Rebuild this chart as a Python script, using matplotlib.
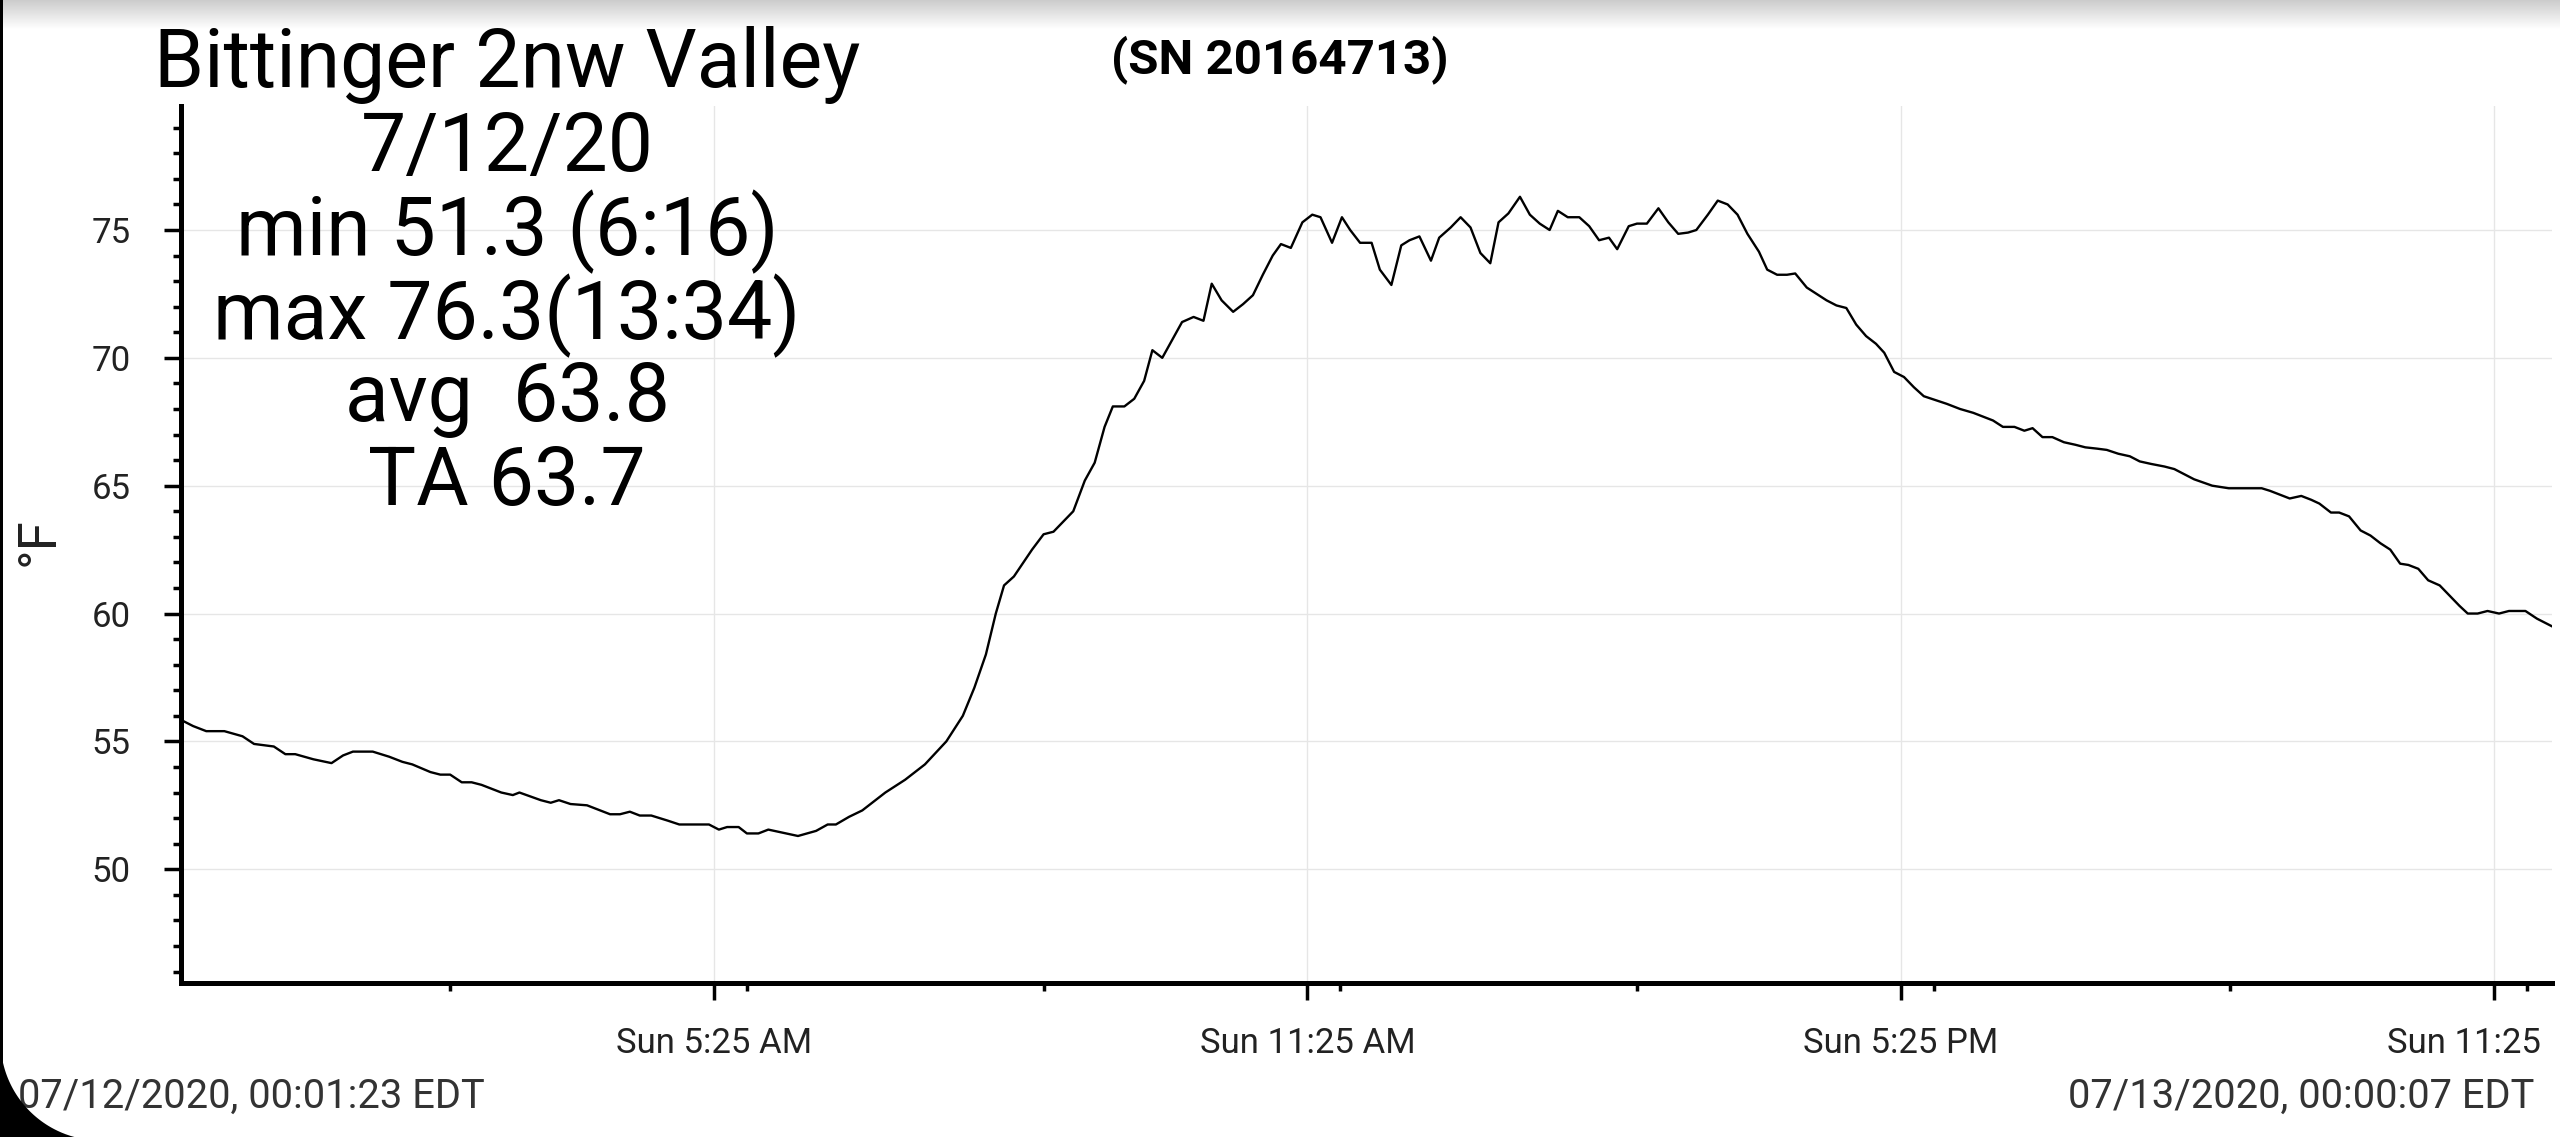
import matplotlib.pyplot as plt
import numpy as np
from matplotlib.ticker import FixedLocator, MultipleLocator, NullFormatter
from matplotlib.transforms import ScaledTranslation

plt.rcParams['font.family'] = ['Roboto', 'DejaVu Sans']

# logger readings (EDT)
times = [
    '00:01:23', '00:09', '00:17', '00:28', '00:39', '00:46', '00:58', '01:05', '01:11', '01:22',
    '01:33', '01:40', '01:46', '01:58', '02:08', '02:16', '02:22', '02:33', '02:39', '02:45',
    '02:52', '02:58', '03:04', '03:16', '03:23', '03:27', '03:40', '03:46', '03:51', '03:58',
    '04:08', '04:22', '04:28', '04:34', '04:40', '04:47', '04:57', '05:04', '05:15', '05:22',
    '05:28', '05:33', '05:40', '05:45', '05:52', '05:58', '06:16', '06:27', '06:34', '06:39',
    '06:47', '06:55', '07:09', '07:21', '07:33', '07:46', '07:56', '08:03', '08:10', '08:16',
    '08:21', '08:27', '08:38', '08:45', '08:51', '09:03', '09:10', '09:16', '09:22', '09:27',
    '09:34', '09:40', '09:46', '09:51', '09:57', '10:03', '10:09', '10:16', '10:22', '10:27',
    '10:33', '10:40', '10:46', '10:52', '10:58', '11:04', '11:09', '11:15', '11:22', '11:28',
    '11:33', '11:40', '11:46', '11:51', '11:57', '12:04', '12:09', '12:16', '12:22', '12:27',
    '12:33', '12:40', '12:45', '12:52', '12:58', '13:04', '13:10', '13:16', '13:21', '13:27',
    '13:34', '13:40', '13:46', '13:52', '13:57', '14:03', '14:10', '14:16', '14:22', '14:28',
    '14:33', '14:40', '14:45', '14:51', '14:58', '15:04', '15:10', '15:16', '15:21', '15:28',
    '15:34', '15:40', '15:46', '15:52', '15:59', '16:04', '16:10', '16:16', '16:21', '16:28',
    '16:34', '16:40', '16:46', '16:52', '16:58', '17:04', '17:10', '17:15', '17:21', '17:27',
    '17:33', '17:39', '17:46', '17:53', '18:01', '18:09', '18:15', '18:21', '18:27', '18:34',
    '18:40', '18:45', '18:51', '18:57', '19:04', '19:11', '19:17', '19:24', '19:30', '19:37',
    '19:44', '19:50', '19:57', '20:05', '20:11', '20:17', '20:23', '20:34', '20:44', '20:55',
    '21:04', '21:09', '21:21', '21:28', '21:34', '21:39', '21:46', '21:51', '21:57', '22:04',
    '22:10', '22:16', '22:22', '22:28', '22:33', '22:39', '22:45', '22:52', '22:58', '23:04',
    '23:09', '23:15', '23:21', '23:28', '23:34', '23:44', '23:51', '24:00:07',
]
temps_f = [
    55.85, 55.6, 55.4, 55.4, 55.2, 54.9, 54.8, 54.5, 54.5, 54.3,
    54.15, 54.45, 54.6, 54.6, 54.4, 54.2, 54.1, 53.8, 53.7, 53.7,
    53.4, 53.4, 53.3, 53.0, 52.9, 53.0, 52.7, 52.6, 52.7, 52.55,
    52.5, 52.15, 52.15, 52.25, 52.1, 52.1, 51.9, 51.75, 51.75, 51.75,
    51.55, 51.65, 51.65, 51.4, 51.4, 51.55, 51.3, 51.5, 51.75, 51.75,
    52.05, 52.3, 53.0, 53.5, 54.1, 55.0, 56.0, 57.1, 58.4, 60.0,
    61.1, 61.45, 62.5, 63.1, 63.2, 64.0, 65.2, 65.9, 67.3, 68.1,
    68.1, 68.4, 69.1, 70.3, 70.0, 70.7, 71.4, 71.6, 71.45, 72.9,
    72.25, 71.8, 72.1, 72.45, 73.25, 74.0, 74.45, 74.3, 75.3, 75.6,
    75.5, 74.5, 75.5, 75.0, 74.5, 74.5, 73.45, 72.85, 74.4, 74.6,
    74.75, 73.8, 74.7, 75.1, 75.5, 75.1, 74.1, 73.7, 75.3, 75.65,
    76.3, 75.6, 75.25, 75.0, 75.75, 75.5, 75.5, 75.15, 74.6, 74.7,
    74.25, 75.15, 75.25, 75.25, 75.85, 75.3, 74.85, 74.9, 75.0, 75.6,
    76.15, 76.0, 75.6, 74.85, 74.15, 73.45, 73.25, 73.25, 73.3, 72.75,
    72.5, 72.25, 72.05, 71.95, 71.3, 70.85, 70.55, 70.2, 69.45, 69.25,
    68.85, 68.5, 68.35, 68.2, 68.0, 67.85, 67.7, 67.55, 67.3, 67.3,
    67.15, 67.25, 66.9, 66.9, 66.7, 66.6, 66.5, 66.45, 66.4, 66.25,
    66.15, 65.95, 65.85, 65.75, 65.65, 65.45, 65.25, 65.0, 64.9, 64.9,
    64.9, 64.8, 64.5, 64.6, 64.45, 64.3, 63.95, 63.95, 63.8, 63.25,
    63.05, 62.75, 62.5, 61.95, 61.9, 61.75, 61.3, 61.1, 60.7, 60.3,
    60.0, 60.0, 60.1, 60.0, 60.1, 60.1, 59.8, 59.5,
]

station = 'Bittinger 2nw Valley'
stats_lines = ['7/12/20', 'min 51.3 (6:16)', 'max 76.3(13:34)', 'avg  63.8', 'TA 63.7']
serial = '(SN 20164713)'
start_stamp = '07/12/2020, 00:01:23 EDT'
end_stamp = '07/13/2020, 00:00:07 EDT'

tick_times = ['05:25', '11:25', '17:25', '23:25']
# the last one is cut by the screen edge in the original
tick_labels = ['Sun 5:25 AM', 'Sun 11:25 AM', 'Sun 5:25 PM', 'Sun 11:25']
minor_tick_times = ['02:45', '05:45', '08:45', '11:45', '14:45', '17:45', '20:45', '23:45']


def hours(t):
    parts = [int(p) for p in t.split(':')]
    h = parts[0] + parts[1] / 60
    if len(parts) > 2:
        h += parts[2] / 3600
    return h


W, H = 2560, 1137
fig = plt.figure(figsize=(W / 100, H / 100), dpi=100)
fig.patch.set_facecolor('white')

# top shadow strip of the screenshot
bg = fig.add_axes([0, 1 - 30 / H, 1, 30 / H], zorder=-1)
bg.imshow(np.linspace(0.80, 1.0, 30).reshape(-1, 1), cmap='gray', vmin=0, vmax=1,
          aspect='auto', extent=(0, 1, 0, 1))
bg.axis('off')

ax = fig.add_axes([180.5 / W, (H - 982.5) / H, (2552 - 180.5) / W, (982.5 - 106) / H])
ax.set_facecolor('none')

x = [hours(t) for t in times]
ax.plot(x, temps_f, color='black', lw=1.7, zorder=3)

ax.set_xlim(hours('00:01:23'), hours('24:00:07'))
ax.set_ylim(45.57, 79.85)

ax.xaxis.set_major_locator(FixedLocator([hours(t) for t in tick_times]))
ax.set_xticklabels(tick_labels)
ax.xaxis.set_minor_locator(FixedLocator([hours(t) for t in minor_tick_times]))
ax.xaxis.set_minor_formatter(NullFormatter())
ax.yaxis.set_major_locator(FixedLocator([50, 55, 60, 65, 70, 75]))
ax.yaxis.set_minor_locator(MultipleLocator(1))

ax.grid(True, which='major', color='#e6e6e6', lw=1.0, zorder=0)
for side in ['top', 'right']:
    ax.spines[side].set_visible(False)
for side in ['left', 'bottom']:
    ax.spines[side].set_linewidth(3.6)
    ax.spines[side].set_color('black')

ax.tick_params(axis='both', which='major', length=12, width=2.5, color='black',
               labelsize=25, labelcolor='#222222')
ax.tick_params(axis='both', which='minor', length=6, width=2.5, color='black')
ax.tick_params(axis='y', which='major', pad=24)
ax.tick_params(axis='x', which='major', pad=20)

# last label keeps the left edge it would have if it were centred in full
last = ax.get_xticklabels()[-1]
last.set_horizontalalignment('left')
last.set_transform(last.get_transform() + ScaledTranslation(-1.07, 0, fig.dpi_scale_trans))

fig.text(39 / W, 1 - 542 / H, '°F', rotation=90, ha='center', va='center',
         fontsize=38, color='#222222')

# station block, one line at a time
cx = 507 / W
baselines = [87.5, 171, 255, 339, 421, 505]
for txt, b in zip([station] + stats_lines, baselines):
    fig.text(cx, 1 - b / H, txt, ha='center', va='baseline', fontsize=58, color='black')

fig.text(1280 / W, 1 - 73 / H, serial, ha='center', va='baseline', fontsize=35.5,
         fontweight='bold', color='black')

fig.text(18 / W, 1 - 1108 / H, start_stamp, ha='left', va='baseline', fontsize=28.7,
         color='#333333')
fig.text(2534 / W, 1 - 1108 / H, end_stamp, ha='right', va='baseline', fontsize=28.7,
         color='#333333')

# phone screen edge: thin left border and rounded bottom-left corner
ov = fig.add_axes([0, 0, 1, 1], zorder=10)
ov.set_xlim(0, W)
ov.set_ylim(H, 0)
ov.axis('off')
ov.patch.set_alpha(0)
R = 100
yy = np.linspace(1040, H, 60)
xx = R - np.sqrt(np.clip(R ** 2 - (yy - 1040) ** 2, 0, None))
ov.fill_betweenx(yy, 0, xx, color='black', lw=0)
ov.fill_between([0, 3], 0, H, color='black', lw=0)

fig.savefig('out.png', dpi=100)
